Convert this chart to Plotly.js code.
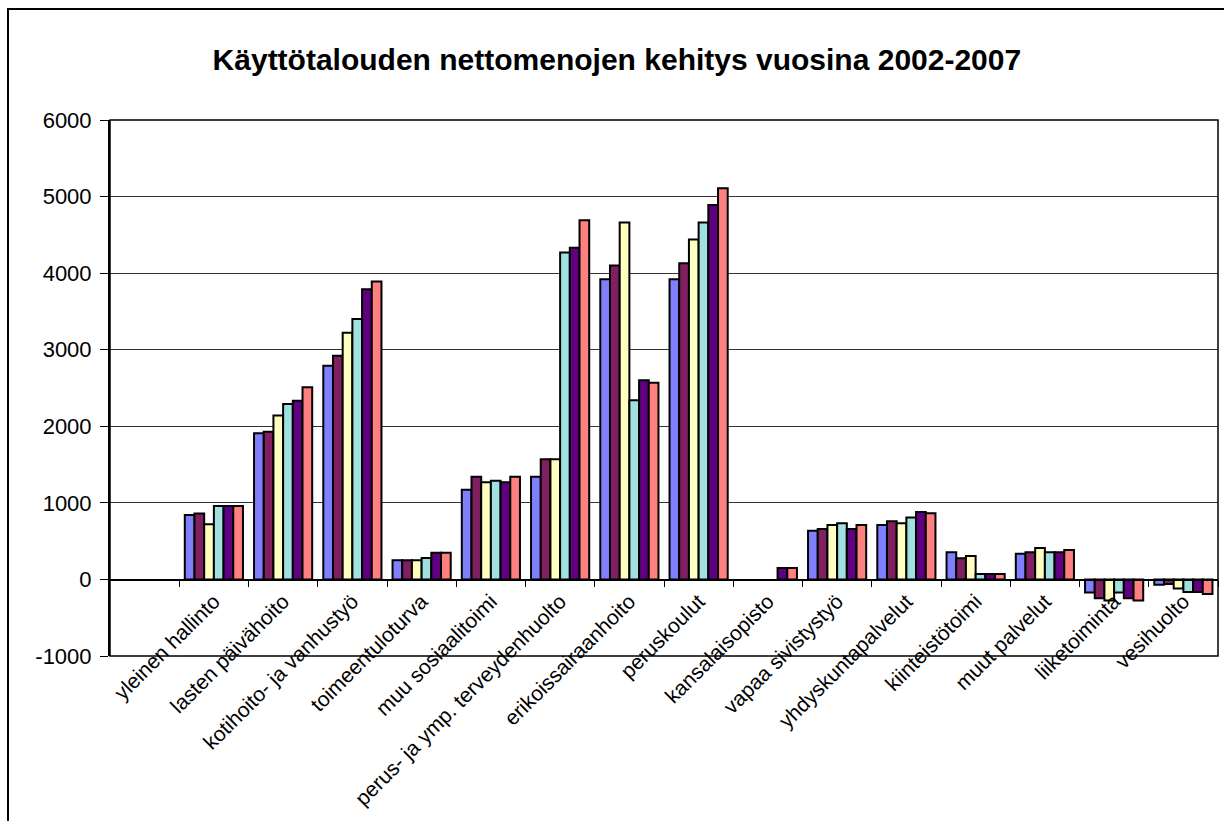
<!DOCTYPE html>
<html>
<head>
<meta charset="utf-8">
<script src="https://cdn.plot.ly/plotly-3.0.1.min.js"></script>
<style>
  html, body { margin: 0; padding: 0; background: #ffffff; }
  #wrap { position: relative; width: 1224px; height: 821px; overflow: hidden; }
  #chart { position: absolute; left: 0; top: 0; width: 1224px; height: 821px; }
  #frame { position: absolute; left: 7px; top: 8px; width: 1240px; height: 840px;
           border: 2px solid #000; pointer-events: none; }
</style>
</head>
<body>
<div id="wrap">
  <div id="chart"></div>
  <div id="frame"></div>
</div>
<script>
// Categories (tick labels)
const categories = [
  "yleinen hallinto",
  "lasten päivähoito",
  "kotihoito- ja vanhustyö",
  "toimeentuloturva",
  "muu sosiaalitoimi",
  "perus- ja ymp. terveydenhuolto",
  "erikoissairaanhoito",
  "peruskoulut",
  "kansalaisopisto",
  "vapaa sivistystyö",
  "yhdyskuntapalvelut",
  "kiinteistötoimi",
  "muut palvelut",
  "liiketoiminta",
  "vesihuolto"
];

// Series names (years)
const seriesNames = ["2002", "2003", "2004", "2005", "2006", "2007"];

// Values per year
const v2002 = [840, 1910, 2790, 250, 1170, 1340, 3920, 3920, null, 635, 710, 355, 335, -170, -70];
const v2003 = [860, 1930, 2920, 250, 1340, 1570, 4100, 4130, null, 660, 760, 275, 355, -245, -60];
const v2004 = [720, 2140, 3220, 250, 1270, 1570, 4660, 4440, null, 710, 735, 305, 410, -275, -120];
const v2005 = [960, 2290, 3400, 280, 1290, 4270, 2340, 4660, null, 735, 810, 70, 355, -170, -165];
const v2006 = [960, 2335, 3790, 350, 1270, 4330, 2600, 4890, 150, 660, 880, 70, 355, -245, -165];
const v2007 = [960, 2510, 3890, 350, 1340, 4690, 2570, 5110, 150, 710, 865, 70, 385, -275, -190];

// Y-axis tick values and labels
const yTickVals = [-1000, 0, 1000, 2000, 3000, 4000, 5000, 6000];
const yTickText = ["-1000", "0", "1000", "2000", "3000", "4000", "5000", "6000"];

const seriesValues = [v2002, v2003, v2004, v2005, v2006, v2007];
const seriesColors = ["#8080FF", "#802060", "#FFFFC0", "#A0E0E0", "#600080", "#FF8080"];

const yMin = yTickVals[0], yMax = yTickVals[yTickVals.length - 1];

const traces = seriesNames.map((name, i) => ({
  type: "bar",
  name: name,
  x: categories,
  y: seriesValues[i],
  marker: { color: seriesColors[i], line: { color: "#000000", width: 2 } },
  hoverinfo: "skip"
}));

const layout = {
  width: 1224,
  height: 821,
  margin: { l: 110, r: 6, t: 120, b: 165 },
  paper_bgcolor: "#ffffff",
  plot_bgcolor: "#ffffff",
  font: { family: "Liberation Sans, Arial, sans-serif", color: "#000000" },
  title: {
    text: "Käyttötalouden nettomenojen kehitys vuosina 2002-2007",
    font: { family: "Liberation Sans, Arial, sans-serif", size: 30, color: "#000000", weight: "bold" },
    x: 0.504, xref: "container", xanchor: "center",
    y: 0.927, yref: "container", yanchor: "middle"
  },
  showlegend: false,
  barmode: "group",
  bargap: 0.16,
  bargroupgap: 0,
  xaxis: {
    type: "category",
    categoryorder: "array",
    categoryarray: categories,
    range: [-1.5, categories.length - 0.5],
    anchor: "free",
    position: (0 - yMin) / (yMax - yMin),
    showline: true,
    linecolor: "#000000",
    linewidth: 1.5,
    ticks: "outside",
    tickson: "boundaries",
    ticklen: 6,
    tickcolor: "#000000",
    tickangle: -45,
    tickfont: { size: 21, color: "#000000" },
    showgrid: false,
    zeroline: false,
    fixedrange: true
  },
  yaxis: {
    range: [yMin, yMax],
    tickmode: "array",
    tickvals: yTickVals,
    ticktext: yTickText,
    showline: true,
    linecolor: "#000000",
    linewidth: 2,
    ticks: "outside",
    ticklen: 8,
    tickcolor: "#000000",
    tickfont: { size: 22, color: "#000000" },
    ticklabelstandoff: 4,
    showgrid: true,
    gridcolor: "#333333",
    gridwidth: 1,
    zeroline: false,
    fixedrange: true
  },
  shapes: [
    { type: "rect", xref: "paper", yref: "paper", x0: 0, x1: 1, y0: 0, y1: 1,
      line: { color: "#000000", width: 1.5 }, fillcolor: "rgba(0,0,0,0)", layer: "above" }
  ]
};

Plotly.newPlot("chart", traces, layout, { displayModeBar: false, staticPlot: true });
</script>
</body>
</html>
